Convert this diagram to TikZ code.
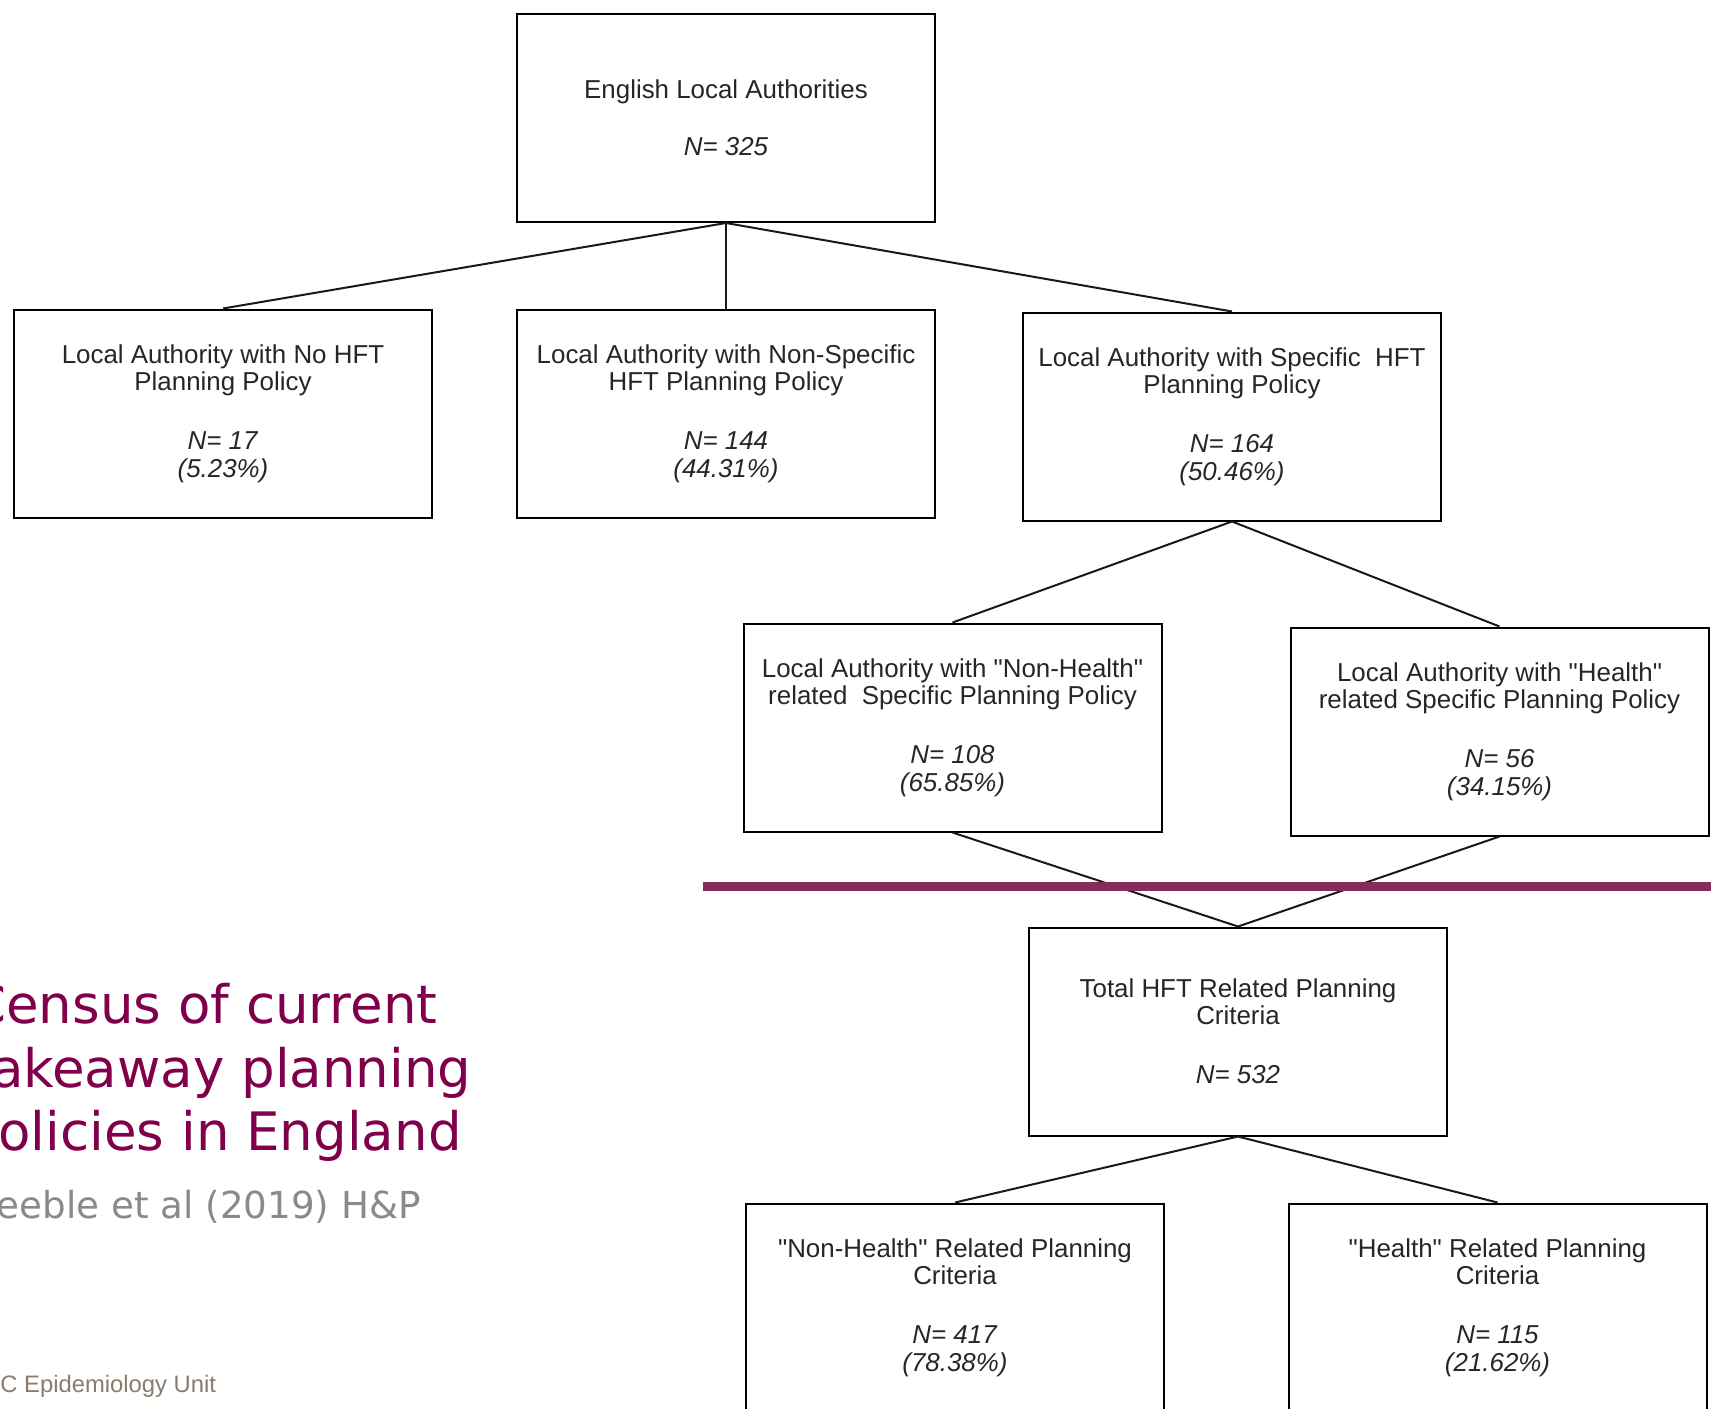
\documentclass[tikz,border=0pt]{standalone}
\usepackage{fontspec}
\setmainfont{Liberation Sans}[Ligatures=TeXOff]
\newfontfamily\titlefont{DejaVu Sans}
\definecolor{titlemaroon}{RGB}{128,0,75}
\definecolor{rulemaroon}{RGB}{131,45,88}
\definecolor{subgray}{RGB}{138,138,138}
\definecolor{unitbrown}{RGB}{138,123,106}
\begin{document}
\begin{tikzpicture}[x=0.5pt,y=-0.5pt,
  box/.style={draw=black, line width=1pt, minimum width=209pt, minimum height=104pt,
    align=center, inner sep=0pt, text=black!85, font=\fontsize{12.95}{13.6}\selectfont},
  link/.style={draw=black!90, line width=1pt},
  titletext/.style={anchor=base west, inner sep=0pt, text=titlemaroon,
    font=\titlefont\fontsize{26.5}{32}\selectfont}]
\useasboundingbox (0,0) rectangle (1711,1408);
\clip (0,0) rectangle (1711,1408);
\fill[white] (0,0) rectangle (1711,1408);

\node[box] (top) at (726,118) {English Local Authorities\\[15pt]\textit{N= 325}};
\node[box] (b1) at (223,413.5) {Local Authority with No HFT\\Planning Policy\\[16pt]\textit{N= 17}\\\textit{(5.23\%)}};
\node[box] (b2) at (726,413.5) {Local Authority with Non-Specific\\HFT Planning Policy\\[16pt]\textit{N= 144}\\\textit{(44.31\%)}};
\node[box] (b3) at (1232,416.5) {Local Authority with Specific~ HFT\\Planning Policy\\[16pt]\textit{N= 164}\\\textit{(50.46\%)}};
\node[box] (nh) at (952.5,727.5) {Local Authority with "Non-Health"\\related~ Specific Planning Policy\\[16pt]\textit{N= 108}\\\textit{(65.85\%)}};
\node[box] (h) at (1499.5,731.5) {Local Authority with "Health"\\related Specific Planning Policy\\[16pt]\textit{N= 56}\\\textit{(34.15\%)}};
\node[box] (tot) at (1238,1031.5) {Total HFT Related Planning\\Criteria\\[16pt]\textit{N= 532}};
\node[box] (nhc) at (955,1307.5) {"Non-Health" Related Planning\\Criteria\\[16pt]\textit{N= 417}\\\textit{(78.38\%)}};
\node[box] (hc) at (1497.5,1307.5) {"Health" Related Planning\\Criteria\\[16pt]\textit{N= 115}\\\textit{(21.62\%)}};

\draw[link] (top.south) -- (b1.north);
\draw[link] (top.south) -- (b2.north);
\draw[link] (top.south) -- (b3.north);
\draw[link] (b3.south) -- (nh.north);
\draw[link] (b3.south) -- (h.north);
\draw[link] (nh.south) -- (tot.north);
\draw[link] (h.south) -- (tot.north);
\draw[link] (tot.south) -- (nhc.north);
\draw[link] (tot.south) -- (hc.north);

\coordinate (ruleL) at (703,886.5);
\coordinate (ruleR) at (1711,886.5);
\draw[rulemaroon, line width=4.25pt] (ruleL) -- (ruleR);

\node[titletext] (t1) at (-31,1023) {Census of current};
\node[titletext] (t2) at (-33,1087) {Takeaway planning};
\node[titletext] (t3) at (-32,1150) {Policies in England};
\node[anchor=base west, inner sep=0pt, text=subgray, font=\titlefont\fontsize{18.6}{22}\selectfont] (sub) at (-26,1218) {Keeble et al (2019) H\&P};
\node[anchor=base west, inner sep=0pt, text=unitbrown, font=\fontsize{11.9}{14}\selectfont] (unit) at (-37,1392) {MRC Epidemiology Unit};
\end{tikzpicture}
\end{document}
